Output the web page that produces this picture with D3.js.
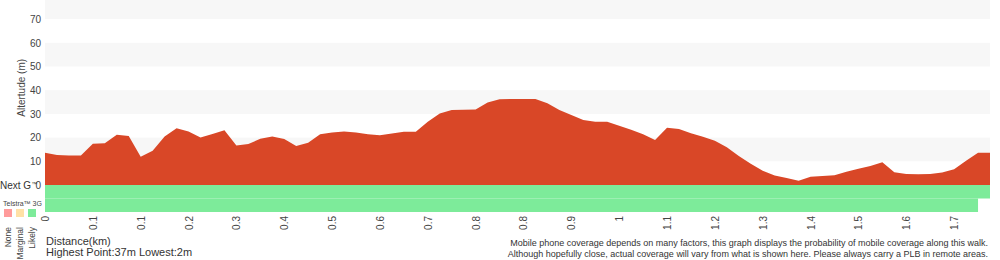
<!DOCTYPE html>
<html>
<head>
<meta charset="utf-8">
<script src="https://cdn.jsdelivr.net/npm/d3@7"></script>
<style>
  body { margin: 0; background: #fff; }
  svg text { font-family: "Liberation Sans", Arial, sans-serif; }
</style>
</head>
<body>
<div id="chart"></div>
<script>
// altitude (m) per track point
const altitude = [
    13.6, 12.7, 12.5, 12.5, 17.4, 17.6, 21.2, 20.7, 11.9, 14.5,
    20.5, 23.9, 22.6, 20.0, 21.5, 23.1, 16.7, 17.3, 19.5, 20.5,
    19.4, 16.5, 17.8, 21.4, 22.2, 22.6, 22.1, 21.4, 21.0, 21.7,
    22.5, 22.5, 26.7, 30.2, 31.6, 31.8, 31.9, 34.8, 36.2, 36.3,
    36.3, 36.3, 34.5, 31.6, 29.5, 27.4, 26.7, 26.7, 25.0, 23.3,
    21.4, 19.0, 24.2, 23.6, 21.8, 20.4, 18.7, 15.9, 12.2, 9.0,
    6.0, 4.0, 3.0, 1.8, 3.5, 3.8, 4.1, 5.6, 6.9, 8.0,
    9.6, 5.4, 4.6, 4.5, 4.6, 5.3, 6.6, 10.2, 13.6, 13.6,
];

// cumulative distance labels, one every 4th point
const distanceLabels = [
    "0", "0.1", "0.1", "0.2", "0.3", "0.4", "0.5", "0.6", "0.7", "0.8",
    "0.8", "0.9", "1", "1.1", "1.2", "1.3", "1.4", "1.5", "1.6", "1.7",
];
const tickEvery = 4;

const altTicks = [0, 10, 20, 30, 40, 50, 60, 70];

// coverage runs: [fromPoint, toPoint, level]
const nextGRuns = [[0, 79, "likely"]];
const telstra3GRuns = [[0, 78, "likely"]];

const levels = ["none", "marginal", "likely"];
const levelNames = ["None", "Marginal", "Likely"];

const highest = 37;
const lowest = 2;

const W = 1000, H = 260;
const margin = { left: 45, right: 10 };
const zeroY = 185;
const pxPerMetre = 2.37;
const rowH = 13.5;

const colors = {
    fill: "#d94727",
    band: "#f7f7f7",
    none: "#ff9b9b",
    marginal: "#ffe1a6",
    likely: "#7deb9a",
    text: "#444",
};

const svg = d3.select("#chart").append("svg")
    .attr("width", W)
    .attr("height", H);

const x = d3.scaleLinear()
    .domain([0, altitude.length - 1])
    .range([margin.left, W - margin.right]);

const y = d3.scaleLinear()
    .domain([0, 80])
    .range([zeroY, zeroY - 80 * pxPerMetre]);

// alternating bands
svg.append("g").selectAll("rect")
    .data(altTicks.filter((d) => d % 20 === 10))
    .join("rect")
    .attr("x", x(0))
    .attr("width", x(altitude.length - 1) - x(0))
    .attr("y", (d) => Math.max(0, y(d + 10)))
    .attr("height", (d) => y(d) - Math.max(0, y(d + 10)))
    .attr("fill", colors.band);

// elevation profile
const area = d3.area()
    .x((d, i) => x(i))
    .y0(y(0))
    .y1((d) => y(d));

svg.append("path")
    .datum(altitude)
    .attr("d", area)
    .attr("fill", colors.fill);

// coverage rows
[nextGRuns, telstra3GRuns].forEach((runs, r) => {
    svg.append("g").selectAll("rect")
        .data(runs)
        .join("rect")
        .attr("x", (d) => x(d[0]))
        .attr("width", (d) => x(d[1]) - x(d[0]))
        .attr("y", zeroY + r * rowH)
        .attr("height", rowH)
        .attr("fill", (d) => colors[d[2]]);
});

// y axis
const yAxis = d3.axisLeft(y).tickValues(altTicks).tickSize(0).tickPadding(4);
const gy = svg.append("g")
    .attr("transform", `translate(${margin.left},0)`)
    .call(yAxis);
gy.select(".domain").remove();
gy.selectAll("text")
    .attr("font-size", 10)
    .attr("fill", colors.text);

svg.append("text")
    .attr("transform", `translate(21,${y(41)}) rotate(-90)`)
    .attr("text-anchor", "middle")
    .attr("dy", "0.35em")
    .attr("font-size", 10)
    .attr("fill", colors.text)
    .text("Altertude (m)");

// x axis
const xAxis = d3.axisBottom(x)
    .tickValues(distanceLabels.map((d, i) => i * tickEvery))
    .tickFormat((d, i) => distanceLabels[i])
    .tickSize(0);
const gx = svg.append("g")
    .attr("transform", `translate(0,${zeroY + 2 * rowH})`)
    .call(xAxis);
gx.select(".domain").remove();
gx.selectAll("text")
    .attr("font-size", 10)
    .attr("fill", colors.text)
    .attr("transform", "rotate(-90)")
    .attr("text-anchor", "end")
    .attr("x", -4)
    .attr("y", 0)
    .attr("dy", "0.35em");

// row labels + legend
const ng = svg.append("text")
    .attr("x", 0).attr("y", zeroY + 4)
    .attr("font-size", 10)
    .attr("fill", "#333")
    .text("Next G");
ng.append("tspan")
    .attr("font-size", 6)
    .attr("dy", -3)
    .text("™");

svg.append("text")
    .attr("x", 3).attr("y", zeroY + 21)
    .attr("font-size", 7)
    .attr("fill", colors.text)
    .text("Telstra™ 3G");

const legend = svg.append("g").attr("transform", `translate(4,${zeroY + 24})`);
legend.selectAll("rect")
    .data(levels)
    .join("rect")
    .attr("x", (d, i) => i * 12)
    .attr("width", 8)
    .attr("height", 8)
    .attr("fill", (d) => colors[d]);
legend.selectAll("text")
    .data(levelNames)
    .join("text")
    .attr("transform", (d, i) => `translate(${i * 12 + 4},${18}) rotate(-90)`)
    .attr("text-anchor", "end")
    .attr("dy", "0.35em")
    .attr("font-size", 8.5)
    .attr("fill", colors.text)
    .text((d) => d);

// footer
svg.append("text")
    .attr("x", 46).attr("y", 245)
    .attr("font-size", 11)
    .attr("fill", "#333")
    .text("Distance(km)");
svg.append("text")
    .attr("x", 46).attr("y", 256)
    .attr("font-size", 11)
    .attr("fill", "#333")
    .text(`Highest Point:${highest}m Lowest:${lowest}m`);

svg.append("text")
    .attr("x", 988).attr("y", 246)
    .attr("text-anchor", "end")
    .attr("font-size", 9)
    .attr("fill", "#333")
    .text("Mobile phone coverage depends on many factors, this graph displays the probability of mobile coverage along this walk.");
svg.append("text")
    .attr("x", 988).attr("y", 257)
    .attr("text-anchor", "end")
    .attr("font-size", 9)
    .attr("fill", "#333")
    .text("Although hopefully close, actual coverage will vary from what is shown here. Please always carry a PLB in remote areas.");
</script>
</body>
</html>
